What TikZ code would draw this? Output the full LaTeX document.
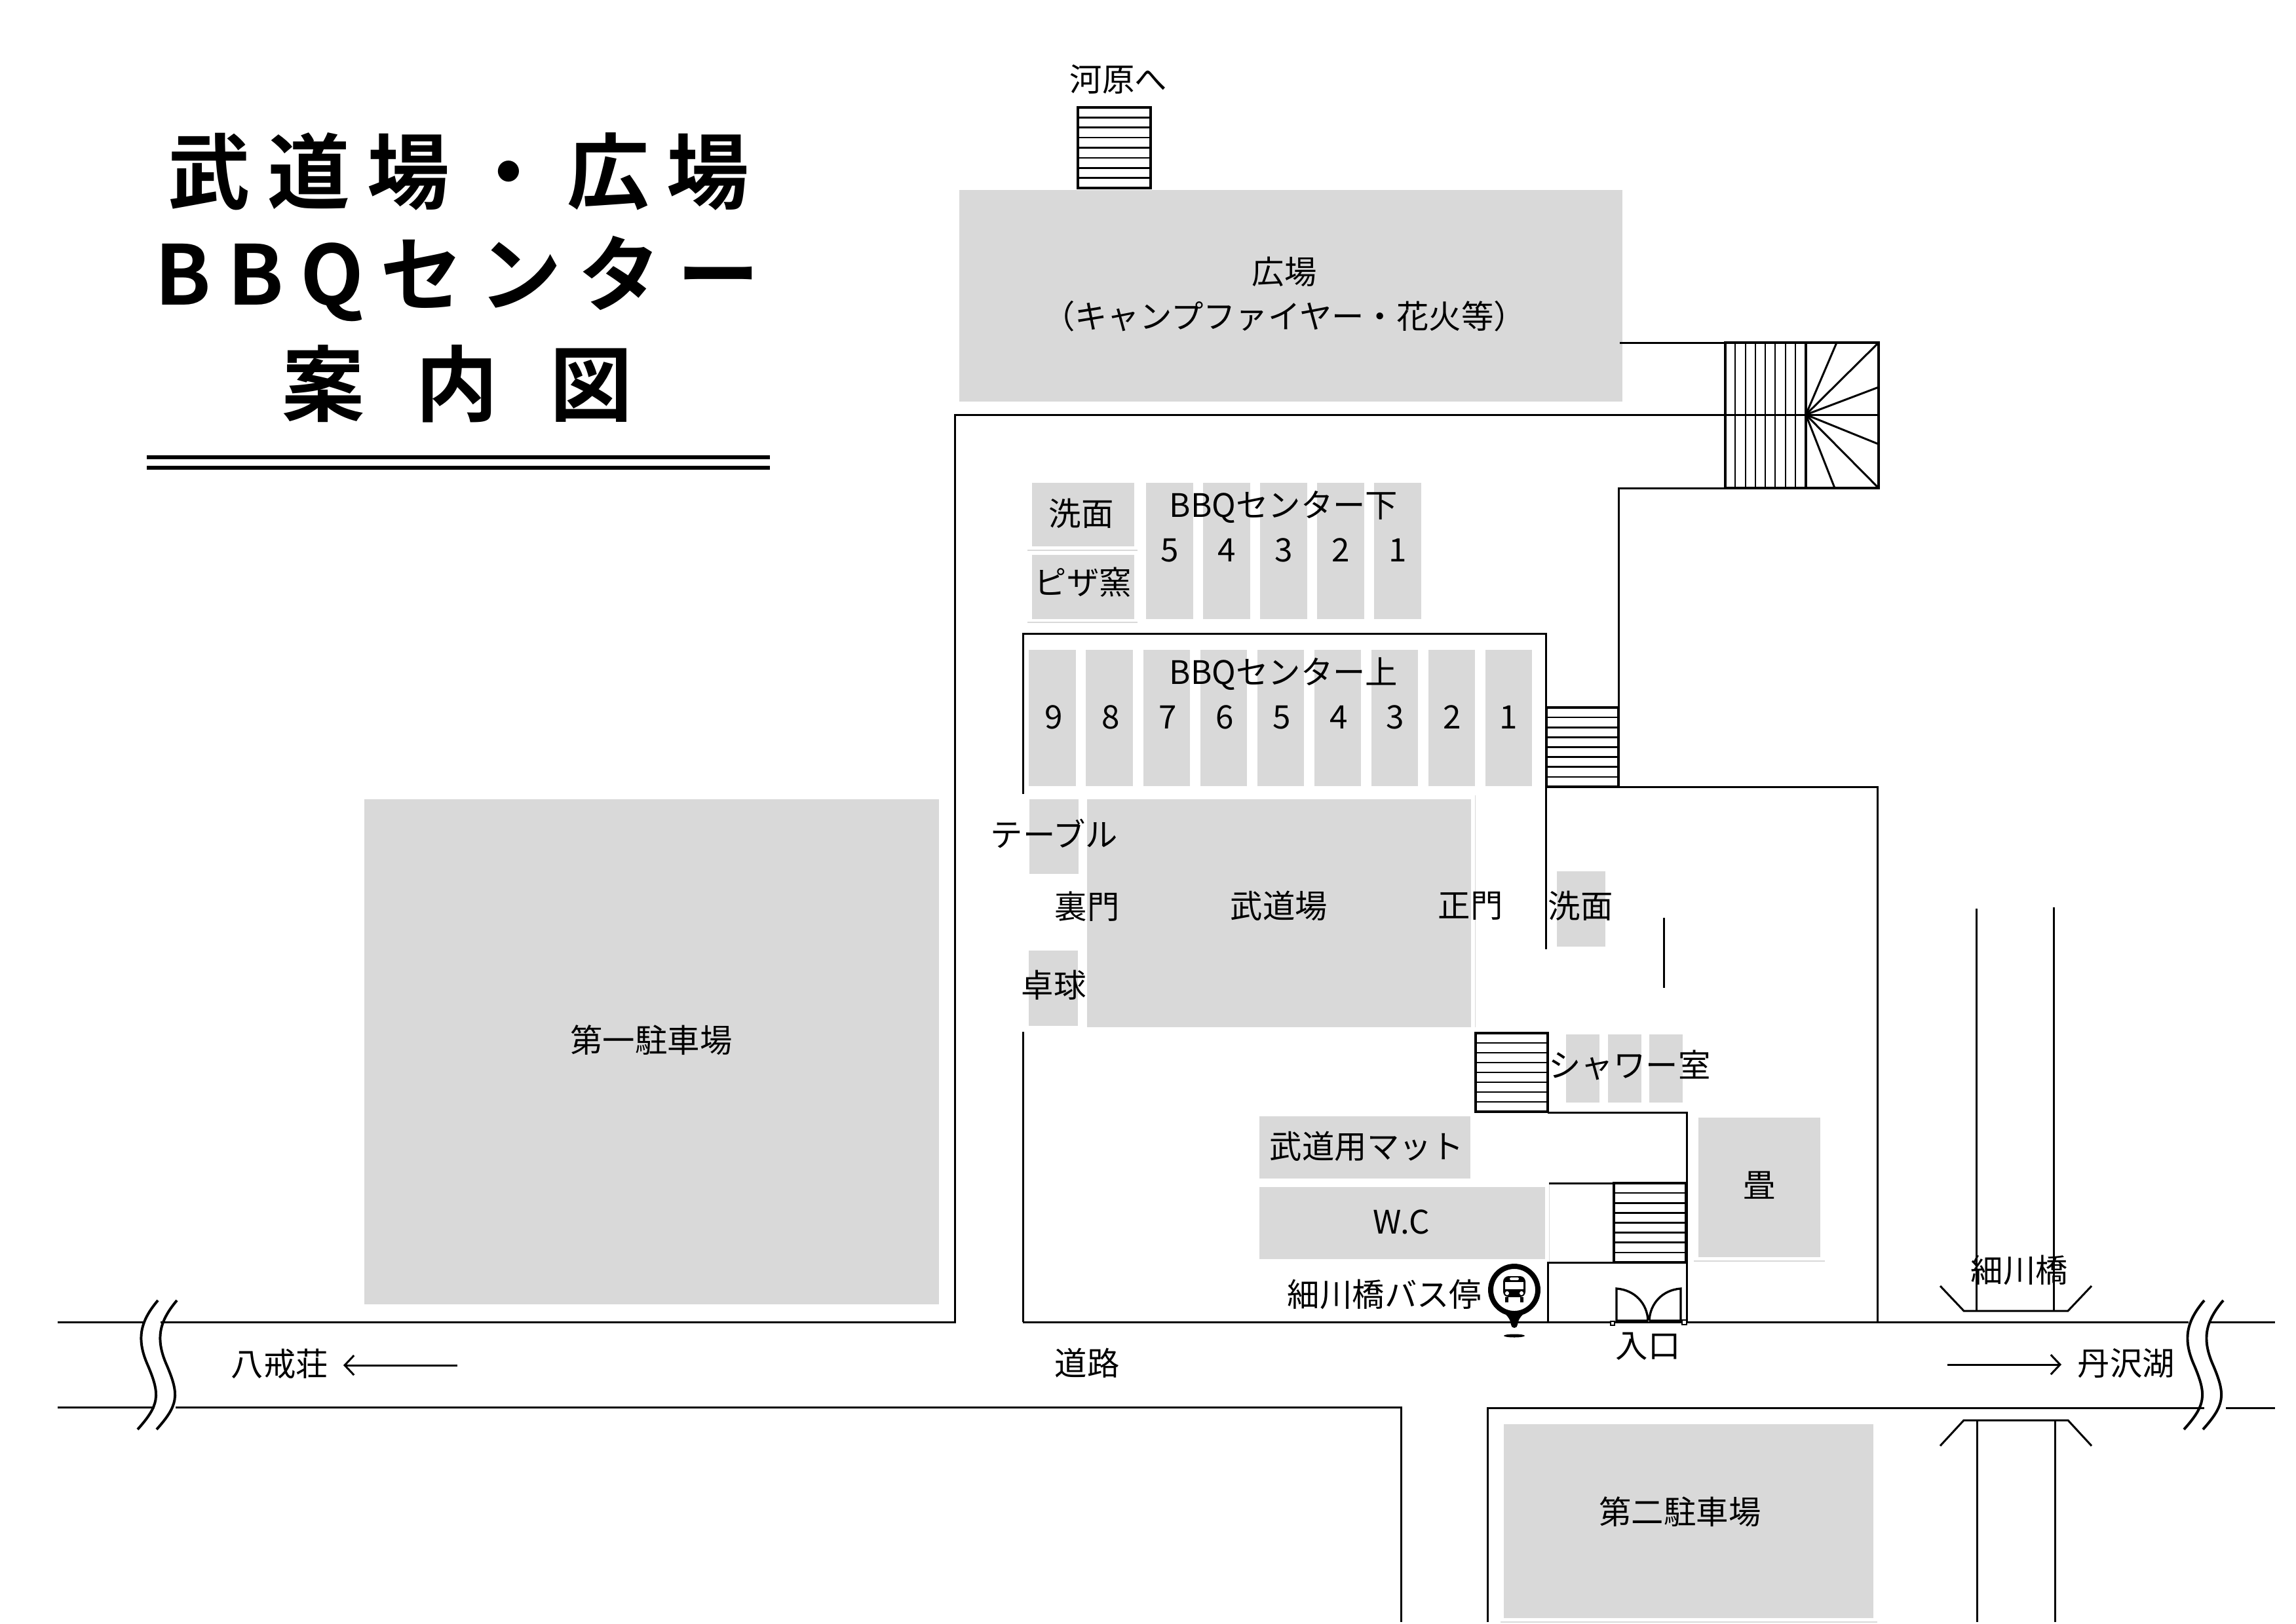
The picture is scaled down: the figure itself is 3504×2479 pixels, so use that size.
\documentclass[tikz,border=0pt]{standalone}
\usepackage{fontspec}
\usetikzlibrary{arrows.meta}
\setmainfont{Noto Sans CJK JP}
\newfontfamily\titlefontA[LetterSpace=21]{Noto Sans CJK JP Bold}
\newfontfamily\titlefontB[LetterSpace=20]{Noto Sans CJK JP Bold}
\newfontfamily\titlefontC[LetterSpace=62.5]{Noto Sans CJK JP Bold}
\definecolor{zone}{HTML}{D9D9D9}
\tikzset{
  wall/.style={draw=black,line width=0.72pt},
  thick wall/.style={draw=black,line width=0.95pt},
  rung/.style={draw=black,line width=0.62pt},
  wave/.style={draw=black,line width=0.95pt},
  faint/.style={draw=zone,line width=0.25pt},
  label/.style={inner sep=0pt,font=\fontsize{11.85}{14}\selectfont},
  title/.style={inner sep=0pt,font=\fontsize{30.2}{36}\selectfont},
  dirarrow/.style={wall,-{Straight Barb[length=3.4pt,width=7.2pt,line width=0.72pt]}},
}
\newcommand{\zonebox}[4]{\fill[zone] (#1,#2) rectangle (#3,#4);}
\newcommand{\hstair}[4]{% x1 y1 x2 y2, 8 rows
  \foreach \k in {1,...,7}{\draw[rung] (#1,{#2+\k*(#4-#2)/8}) -- (#3,{#2+\k*(#4-#2)/8});}
  \draw[thick wall] (#1,#2) rectangle (#3,#4);}
\newcommand{\wavepair}[1]{% x offset
  \begin{scope}[xshift=#1*0.24pt]
  \foreach \d in {0,29}{
    \draw[wave] (241+\d,1985) .. controls (213+\d,2018) and (208+\d,2045) .. (226+\d,2085)
      .. controls (245+\d,2130) and (243+\d,2145) .. (210+\d,2182);}
  \end{scope}}
\begin{document}
\begin{tikzpicture}[x=0.24pt,y=-0.24pt]
\path[use as bounding box] (0,0) rectangle (3504,2479);

% grey zones
\zonebox{1464}{290}{2476}{613}
\zonebox{556}{1220}{1433}{1991}
\zonebox{2295}{2174}{2859}{2470}
\zonebox{1575}{737}{1731}{834}
\zonebox{1575}{847}{1731}{945}
\foreach \a/\b in {1749/1821,1836/1908,1923/1995,2010/2082,2097/2169}{\zonebox{\a}{737}{\b}{945}}
\foreach \a/\b in {1570/1642,1657/1729,1745/1816,1832/1903,1919/1990,2006/2077,2093/2164,2180/2251,2267/2338}{\zonebox{\a}{992}{\b}{1200}}
\zonebox{1571}{1220}{1646}{1334}
\zonebox{1659}{1220}{2245}{1568}
\zonebox{1570}{1451}{1645}{1566}
\zonebox{2376}{1330}{2450}{1445}
\foreach \a/\b in {2390/2441,2454/2505,2517/2568}{\zonebox{\a}{1579}{\b}{1683}}
\zonebox{2592}{1706}{2778}{1919}
\zonebox{1922}{1704}{2244}{1799}
\zonebox{1922}{1812}{2358}{1922}
% faint hairlines beside the zones
\draw[faint] (1568,840) -- (1736,840);
\draw[faint] (1568,950) -- (1736,950);
\draw[faint] (2251,1214) -- (2251,1568);
\draw[faint] (2585,1925) -- (2785,1925);
\draw[faint] (2290,2476) -- (2865,2476);
\draw[faint] (2364,1806) -- (2364,1927);

% title
\node[title] (t1) at (700,262) {\titlefontA 武道場・広場};
\node[title] (t2) at (698,425) {\titlefontB BBQセンター};
\node[title] (t3) at (698,586) {\titlefontC 案内図};
\fill (224,695) rectangle (1175,701);
\fill (224,711) rectangle (1175,717);

% road
\draw[wall] (88,2018) -- (218,2018);
\draw[wall] (245,2018) -- (1457,2018) -- (1457,633) -- (2633,633);
\draw[wall] (88,2148) -- (236,2148);
\draw[wall] (268,2148) -- (2138,2148) -- (2138,2476);
\draw[wall] (2270,2476) -- (2270,2149) -- (3364,2149);
\draw[wall] (3397,2149) -- (3472,2149);
\draw[wall] (1561,2018) -- (3340,2018);
\draw[wall] (3372,2018) -- (3472,2018);
\wavepair{0}
\wavepair{3123}

% enclosure walls
\draw[wall] (1561,1212) -- (1561,967) -- (2359,967) -- (2359,1449);
\draw[wall] (1561,1575) -- (1561,2018);
\draw[wall] (2472,523) -- (2633,523);
\draw[wall] (2633,745) -- (2470,745) -- (2470,1086);
\draw[wall] (2470,1201) -- (2865,1201) -- (2865,2018);
\draw[wall] (2539,1401) -- (2539,1508);
\draw[wall] (2362,1698) -- (2574,1698) -- (2574,2018);
\draw[wall] (2364,1806) -- (2463,1806);
\draw[wall] (2463,1927) -- (2362,1927) -- (2362,2018);

% stairs
\hstair{1645}{164}{1756}{287}
\hstair{2360}{1080}{2470}{1201}
\hstair{2252}{1577}{2362}{1697}
\hstair{2463}{1806}{2573}{1927}
% landing stair
\foreach \x in {2648,2664,2679,2694,2709,2725,2740}{\draw[rung] (\x,523) -- (\x,745);}
\draw[wall] (2633,633) -- (2867,633);
\draw[thick wall] (2633,523) rectangle (2756,745);
\draw[thick wall] (2756,523) rectangle (2867,745);
\coordinate (fan) at (2756,633);
\foreach \x/\y in {2803/523,2867/523,2867/591,2867/678,2867/745,2800/745}{\draw[wall] (fan) -- (\x,\y);}

% bridge
\draw[wall] (2961,1963) -- (2997,2001) -- (3156,2001) -- (3192,1963);
\draw[wall] (3016,1387) -- (3016,2001);
\draw[wall] (3134,1385) -- (3134,2001);
\draw[wall] (2961,2207) -- (2997,2168) -- (3156,2168) -- (3192,2207);
\draw[wall] (3017,2168) -- (3017,2476);
\draw[wall] (3136,2168) -- (3136,2476);

% direction arrows
\coordinate (wa) at (698,2084); \coordinate (wb) at (524,2084);
\coordinate (ea) at (2972,2083); \coordinate (eb) at (3146,2083);
\draw[dirarrow] (wa) -- (wb);
\draw[dirarrow] (ea) -- (eb);

% doors
\draw[line width=0.8pt] (2515,2016) -- (2467,2016) -- (2467,1967) .. controls (2495,1969) and (2514,1990) .. (2515,2016);
\draw[line width=0.8pt] (2517,2016) -- (2565,2016) -- (2565,1967) .. controls (2537,1969) and (2518,1990) .. (2517,2016);
\draw[line width=0.6pt,fill=white] (2458,2017) rectangle (2464,2023);
\draw[line width=0.6pt,fill=white] (2567,2015) rectangle (2574,2022);

% bus stop pin
\fill (2311,2022) circle (5);
\fill (2284,1992) .. controls (2295,2006) and (2304,2008) .. (2306,2022) -- (2316,2022) .. controls (2318,2008) and (2327,2006) .. (2338,1992) -- cycle;
\draw[line width=1.9pt,fill=white] (2311,1969) circle (36);
\fill (2311,2039) ellipse (16 and 2.5);
\fill[rounded corners=2pt] (2294,1948) rectangle (2328,1980);
\fill (2297,1980) rectangle (2302,1988);
\fill (2320,1980) rectangle (2325,1988);
\fill[white] (2297,1957) rectangle (2325,1968);
\fill[white,rounded corners=0.5pt] (2304,1950) rectangle (2318,1954);
\fill[white] (2300,1974) circle (3);
\fill[white] (2322,1974) circle (3);

% labels
\node[label] (l01) at (1707,121) {河原へ};
\node[label] (l02) at (1960,415) {広場};
\node[label] (l03) at (1960,483) {（キャンプファイヤー・花火等）};
\node[label] (l04) at (1650,784) {洗面};
\node[label] (l05) at (1653,889) {ピザ窯};
\node[label] (l06) at (1959,774) {BBQセンター下};
\foreach \n/\x in {5/1785,4/1872,3/1959,2/2046,1/2133}{\node[label] at (\x,840) {\n};}
\node[label] (l07) at (1959,1029) {BBQセンター上};
\foreach \n/\x in {9/1608,8/1695,7/1782,6/1869,5/1956,4/2043,3/2129,2/2216,1/2302}{\node[label] at (\x,1095) {\n};}
\node[label] (l08) at (1609,1273) {テーブル};
\node[label] (l09) at (1659,1384) {裏門};
\node[label] (l10) at (1952,1383) {武道場};
\node[label] (l11) at (2244,1383) {正門};
\node[label] (l12) at (2412,1383) {洗面};
\node[label] (l13) at (1608,1504) {卓球};
\node[label] (l14) at (2487,1626) {シャワー室};
\node[label] (l15) at (2086,1750) {武道用マット};
\node[label] (l16) at (2139,1865) {W.C};
\node[label] (l17) at (2685,1809) {畳};
\node[label] (l18) at (2113,1976) {細川橋バス停};
\node[label] (l19) at (2515,2055) {入口};
\node[label] (l20) at (3082,1939) {細川橋};
\node[label] (l21) at (427,2082) {八戒荘};
\node[label] (l22) at (1659,2081) {道路};
\node[label] (l23) at (3245,2081) {丹沢湖};
\node[label] (l24) at (994,1588) {第一駐車場};
\node[label] (l25) at (2564,2308) {第二駐車場};
\end{tikzpicture}
\end{document}
